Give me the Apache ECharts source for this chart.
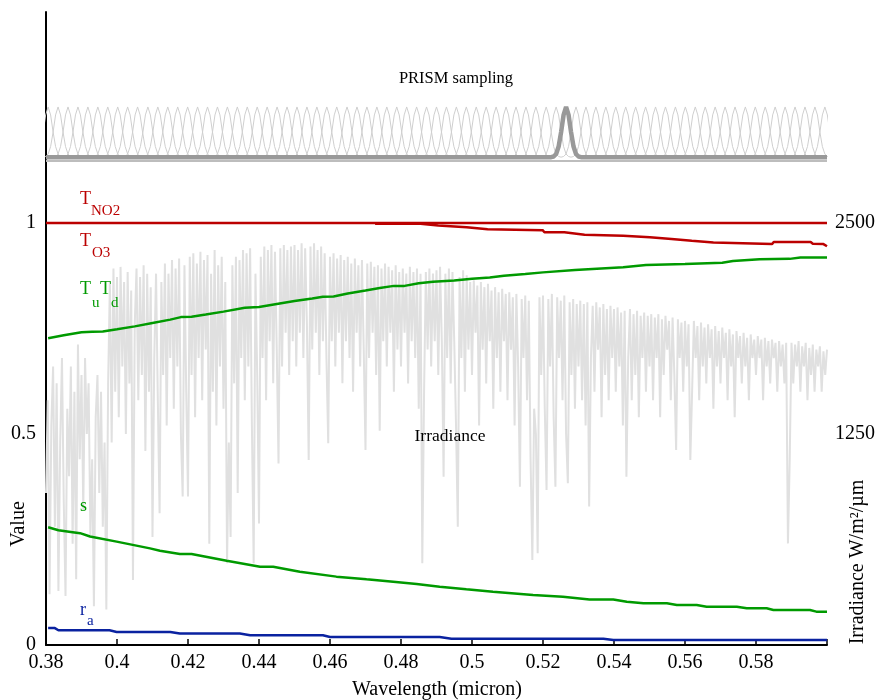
<!DOCTYPE html>
<html>
<head>
<meta charset="utf-8">
<script src="https://cdn.jsdelivr.net/npm/echarts@6/dist/echarts.min.js"></script>
<style>
  html, body { margin: 0; padding: 0; background: #ffffff; }
  #chart { width: 878px; height: 700px; }
</style>
</head>
<body>
<div id="chart"></div>
<script>
// ---- Data ---------------------------------------------------------------

// NO2 transmittance (flat at unity over the band)
const tNO2 = [[0.3800, 1.0], [0.6000, 1.0]];

// O3 transmittance, stepped decrease past ~0.47 micron
const tO3 = [
  [0.4727, 0.998], [0.4855, 0.998], [0.4860, 0.994], [0.4905, 0.994], [0.4910, 0.990],
  [0.4985, 0.990], [0.4990, 0.987], [0.5044, 0.985], [0.5199, 0.983], [0.5204, 0.978],
  [0.5260, 0.978], [0.5265, 0.974], [0.5317, 0.972], [0.5426, 0.970], [0.5431, 0.966],
  [0.5501, 0.966], [0.5506, 0.962], [0.5562, 0.962], [0.5567, 0.958], [0.5619, 0.958],
  [0.5624, 0.954], [0.5680, 0.954], [0.5685, 0.950], [0.5845, 0.950], [0.5850, 0.955],
  [0.5954, 0.955], [0.5960, 0.951], [0.5990, 0.950], [0.6000, 0.945]
];

// Rayleigh up/down transmittance product
const tUtD = [
  [0.3806, 0.727], [0.3850, 0.734], [0.3900, 0.741], [0.3930, 0.7425], [0.3960, 0.743],
  [0.4000, 0.748], [0.4050, 0.755], [0.4100, 0.763], [0.4150, 0.771], [0.4180, 0.777],
  [0.4210, 0.778], [0.4250, 0.783], [0.4300, 0.790], [0.4360, 0.799], [0.4400, 0.801],
  [0.4450, 0.808], [0.4500, 0.815], [0.4550, 0.821], [0.4580, 0.825], [0.4610, 0.826],
  [0.4650, 0.833], [0.4700, 0.840], [0.4740, 0.846], [0.4780, 0.851], [0.4810, 0.851],
  [0.4850, 0.857], [0.4890, 0.861], [0.4950, 0.864], [0.5000, 0.868], [0.5050, 0.871],
  [0.5090, 0.875], [0.5150, 0.879], [0.5200, 0.883], [0.5290, 0.8886], [0.5426, 0.895],
  [0.5490, 0.9005], [0.5600, 0.903], [0.5705, 0.906], [0.5735, 0.910], [0.5810, 0.914],
  [0.5895, 0.915], [0.5925, 0.918], [0.6000, 0.918]
];

// Spherical albedo
const sAlbedo = [
  [0.3806, 0.279], [0.3835, 0.272], [0.3870, 0.268], [0.3896, 0.265], [0.3924, 0.257],
  [0.3999, 0.245], [0.4093, 0.229], [0.4121, 0.2235], [0.4177, 0.2156], [0.4210, 0.2156],
  [0.4309, 0.1998], [0.4403, 0.1856], [0.4440, 0.1856], [0.4515, 0.1738], [0.4618, 0.162],
  [0.4703, 0.1556], [0.4778, 0.150], [0.4844, 0.1445], [0.4909, 0.138], [0.4984, 0.132],
  [0.5059, 0.1264], [0.5172, 0.1185], [0.5256, 0.1145], [0.5331, 0.108], [0.5398, 0.108],
  [0.5436, 0.1027], [0.5483, 0.0987], [0.5549, 0.0987], [0.5577, 0.0948], [0.5633, 0.0948],
  [0.5661, 0.0908], [0.5746, 0.0908], [0.5774, 0.0869], [0.5830, 0.0869], [0.5849, 0.083],
  [0.5952, 0.083], [0.5970, 0.079], [0.6000, 0.079]
];

// Atmospheric path reflectance
const rA = [
  [0.3806, 0.040], [0.3825, 0.040], [0.3835, 0.035], [0.3979, 0.035], [0.3999, 0.031],
  [0.4150, 0.031], [0.4177, 0.027], [0.4346, 0.027], [0.4375, 0.023], [0.4580, 0.023],
  [0.4600, 0.019], [0.4909, 0.019], [0.4942, 0.015], [0.5370, 0.015], [0.5398, 0.012],
  [0.6000, 0.012]
];

// Solar irradiance (W/m^2/um), 0.5 nm samples from 380.0 to 600.0 nm
const irrStart = 0.3800;
const irrStep = 0.0005;
const irradiance = [
  900,1450,300,1300,1650,700,1550,320,1200,1700,850,290,1400,1000,1650,600,1500,390,1780,1100,
  1600,800,1700,1250,1550,650,1100,230,1350,1600,900,1500,700,1200,210,1550,2150,1200,2230,1500,
  2180,1350,2240,1650,2150,1250,2210,1550,2100,385,1900,2230,1450,2180,1600,2250,1150,2200,1500,2120,
  640,1700,2200,1450,780,2150,1600,2260,1300,2200,1700,2280,1400,2230,1650,2290,1250,880,2250,1500,
  880,2300,1600,2320,1350,2260,1700,2330,1450,2280,1750,2310,600,2200,1500,2340,1300,2250,1650,2300,
  1400,2150,484,1200,640,2250,1550,2300,900,2280,1700,2340,1450,2320,1650,2350,1300,484,2200,1600,
  720,2300,1700,2360,1450,2340,1800,2370,1550,2330,1750,1076,2350,1650,2370,1850,2340,1600,2360,1800,
  2370,1650,2340,1850,2380,1700,2350,1900,1096,2360,1750,2380,1850,2340,1600,2360,1800,2320,1700,1195,
  2300,1800,2320,1650,2290,1850,2310,1550,2280,1800,2300,1700,2260,1500,2290,1850,2250,1650,2280,1750,
  1155,2260,1700,2270,1850,2240,1600,2250,1270,2230,1800,2260,1650,2240,1850,2220,1500,2250,1750,2210,
  1650,2230,1850,2200,1550,2240,1800,2210,1700,2230,1400,2200,484,1500,2210,1750,2230,1650,2200,1800,
  2220,1600,2240,1800,997,2200,1700,2230,1550,2210,1800,1300,701,2180,1700,2220,1500,2190,1750,2150,
  1600,2160,1850,2130,1300,2150,1750,2120,1550,2140,1800,2100,1400,2120,1700,2090,1500,2110,1800,2080,
  1450,2090,1750,2060,1300,2080,1650,938,2050,1700,2070,1450,2040,1100,504,1400,1250,543,2060,1600,
  2070,1400,918,2050,1650,2080,1350,938,2060,1700,2040,1450,2070,1250,958,2030,1600,2050,1400,2020,
  1650,2040,1450,2020,1300,2030,820,1700,2010,1500,2030,1750,2000,1350,2020,1600,1990,1450,2010,1700,
  1990,1500,2000,1650,1970,1300,1980,997,1700,1990,1450,1960,1600,1980,1350,1950,1700,1970,1500,1950,
  1650,1960,1450,1940,1700,1960,1350,1930,1600,1950,1750,1920,1450,1940,1600,1155,1930,1700,1910,1500,
  1920,1650,1900,1096,1500,1920,1700,1890,1450,1910,1650,1880,1550,1900,1700,1870,1400,1890,1650,1860,
  1550,1880,1700,1850,1450,1870,1650,1840,1350,1860,1700,1830,1550,1850,1650,1820,1450,1840,1700,1810,
  1600,1830,1700,1810,1450,1820,1650,1800,1550,1810,1700,1790,1500,1800,1650,1780,1550,1790,602,1100,
  1790,1550,1780,1650,1800,1500,1770,1650,1790,1450,1760,1600,1780,1500,1750,1650,1770,1500,1740,1600,
  1750
];

// PRISM band centres (micron)
const prismCenters = [
  0.3806,0.3834,0.3862,0.3890,0.3918,0.3946,0.3974,0.4002,0.4030,0.4058,
  0.4087,0.4115,0.4143,0.4171,0.4199,0.4227,0.4255,0.4283,0.4311,0.4339,
  0.4367,0.4395,0.4423,0.4451,0.4479,0.4507,0.4535,0.4563,0.4591,0.4619,
  0.4648,0.4676,0.4704,0.4732,0.4760,0.4788,0.4816,0.4844,0.4872,0.4900,
  0.4928,0.4956,0.4984,0.5012,0.5040,0.5068,0.5096,0.5124,0.5152,0.5180,
  0.5209,0.5237,0.5265,0.5293,0.5321,0.5349,0.5377,0.5405,0.5433,0.5461,
  0.5489,0.5517,0.5545,0.5573,0.5601,0.5629,0.5657,0.5685,0.5713,0.5741,
  0.5770,0.5798,0.5826,0.5854,0.5882,0.5910,0.5938,0.5966,0.5994
];
// Relative spectral response of one band, sampled at these offsets from its centre
const bandOffsets  = [-0.0042,-0.0035,-0.0028,-0.0021,-0.0014,-0.0007,0,0.0007,0.0014,0.0021,0.0028,0.0035,0.0042];
const bandResponse = [0, 0.013, 0.063, 0.211, 0.5, 0.841, 1, 0.841, 0.5, 0.211, 0.063, 0.013, 0];
const highlightBand = 52;          // index of the emphasised band
const prismBase = 1.156;           // vertical offset of the sampling strip
const prismBaseLow = 1.147;
const prismScale = 0.119;          // height of a unit response in the strip

// Axis tick settings
const xTicks = { min: 0.38, max: 0.60, step: 0.02 };
const leftTicks = { min: 0, max: 1.5, step: 0.5 };
const rightTicks = { min: 0, max: 3750, step: 1250, shown: [1250, 2500] };

// ---- Build series data ------------------------------------------------------
const irrData = irradiance.map((v, i) => [irrStart + i * irrStep, v]);

const prismThin = [];
prismCenters.forEach(c => {
  bandOffsets.forEach((o, k) => prismThin.push([c + o, prismBase + prismScale * bandResponse[k]]));
  prismThin.push([c + 0.0045, null]);
});

const hc = prismCenters[highlightBand];
const prismHighlight = [[0.38, prismBase]];
bandOffsets.forEach((o, k) => prismHighlight.push([hc + o, prismBase + prismScale * bandResponse[k]]));
prismHighlight.push([0.60, prismBase]);

const prismLow = [[0.38, prismBaseLow], [0.60, prismBaseLow]];

// ---- Styling ----------------------------------------------------------------
const SERIF = '"Liberation Serif", "DejaVu Serif", "Times New Roman", serif';
const RED = '#bb0000';
const GREEN = '#009a00';
const BLUE = '#0a22a0';

function lineSeries(name, data, color, width, z, extra) {
  return Object.assign({
    name, type: 'line', data, showSymbol: false, symbol: 'none',
    lineStyle: { color, width }, itemStyle: { color },
    z, silent: true, animation: false, connectNulls: false
  }, extra || {});
}

function txt(x, y, text, color, size, extra) {
  return {
    type: 'text', x, y, silent: true, z: 50,
    style: Object.assign({
      text, fill: color, font: size + 'px ' + SERIF,
      align: 'left', verticalAlign: 'middle'
    }, extra || {})
  };
}

const option = {
  backgroundColor: '#ffffff',
  animation: false,
  grid: { left: 46, right: 51, top: 12, bottom: 55 },
  xAxis: {
    type: 'value', min: xTicks.min, max: xTicks.max, interval: xTicks.step,
    axisLine: { show: true, onZero: false, lineStyle: { color: '#000', width: 2 } },
    axisTick: { show: true, inside: true, length: 6, lineStyle: { color: '#000', width: 1.5 } },
    axisLabel: {
      color: '#000', fontFamily: SERIF, fontSize: 20, margin: 8,
      formatter: v => (v > xTicks.max - 0.001 ? '' : String(+v.toFixed(2)))
    },
    splitLine: { show: false }
  },
  yAxis: [
    {
      type: 'value', min: leftTicks.min, max: leftTicks.max, interval: leftTicks.step, position: 'left',
      axisLine: { show: true, lineStyle: { color: '#000', width: 2 } },
      axisTick: { show: false },
      axisLabel: {
        color: '#000', fontFamily: SERIF, fontSize: 20, margin: 10,
        formatter: v => (v > 1.4 ? '' : String(v))
      },
      splitLine: { show: false }
    },
    {
      type: 'value', min: rightTicks.min, max: rightTicks.max, interval: rightTicks.step, position: 'right',
      axisLine: { show: false }, axisTick: { show: false },
      axisLabel: {
        color: '#000', fontFamily: SERIF, fontSize: 20, margin: 8,
        formatter: v => (rightTicks.shown.indexOf(v) >= 0 ? String(v) : '')
      },
      splitLine: { show: false }
    }
  ],
  series: [
    lineSeries('Irradiance', irrData, '#e0e0e0', 2, 1, { yAxisIndex: 1 }),
    lineSeries('PRISM bands', prismThin, '#cfcfcf', 1, 2),
    lineSeries('PRISM base low', prismLow, '#bdbdbd', 2, 3),
    lineSeries('PRISM band', prismHighlight, '#999999', 4.5, 4),
    lineSeries('T_NO2', tNO2, RED, 2.5, 5),
    lineSeries('T_O3', tO3, RED, 2.5, 5),
    lineSeries('TuTd', tUtD, GREEN, 2.5, 5),
    lineSeries('s', sAlbedo, GREEN, 2.5, 5),
    lineSeries('r_a', rA, BLUE, 2.5, 5)
  ],
  graphic: [
    txt(456, 79, 'PRISM sampling', '#000', 16.5, { align: 'center' }),
    txt(450, 436, 'Irradiance', '#000', 17.5, { align: 'center' }),
    txt(80, 199, 'T', RED, 18), txt(91, 211, 'NO2', RED, 15),
    txt(80, 241, 'T', RED, 18), txt(92, 253, 'O3', RED, 15),
    txt(80, 289, 'T', GREEN, 18), txt(92, 303, 'u', GREEN, 15),
    txt(100, 289, 'T', GREEN, 18), txt(111, 303, 'd', GREEN, 15),
    txt(80, 506, 's', GREEN, 18),
    txt(80, 610, 'r', BLUE, 18), txt(87, 621, 'a', BLUE, 15),
    txt(437, 690, 'Wavelength (micron)', '#000', 20, { align: 'center' }),
    { type: 'text', x: 19, y: 524, rotation: Math.PI / 2, silent: true, z: 50,
      style: { text: 'Value', fill: '#000', font: '20px ' + SERIF, align: 'center', verticalAlign: 'middle' } },
    { type: 'text', x: 858, y: 562, rotation: Math.PI / 2, silent: true, z: 50,
      style: { text: 'Irradiance W/m\u00B2/\u00B5m', fill: '#000', font: '20px ' + SERIF, align: 'center', verticalAlign: 'middle' } }
  ]
};

const chart = echarts.init(document.getElementById('chart'), null, { renderer: 'canvas' });
chart.setOption(option);
</script>
</body>
</html>
